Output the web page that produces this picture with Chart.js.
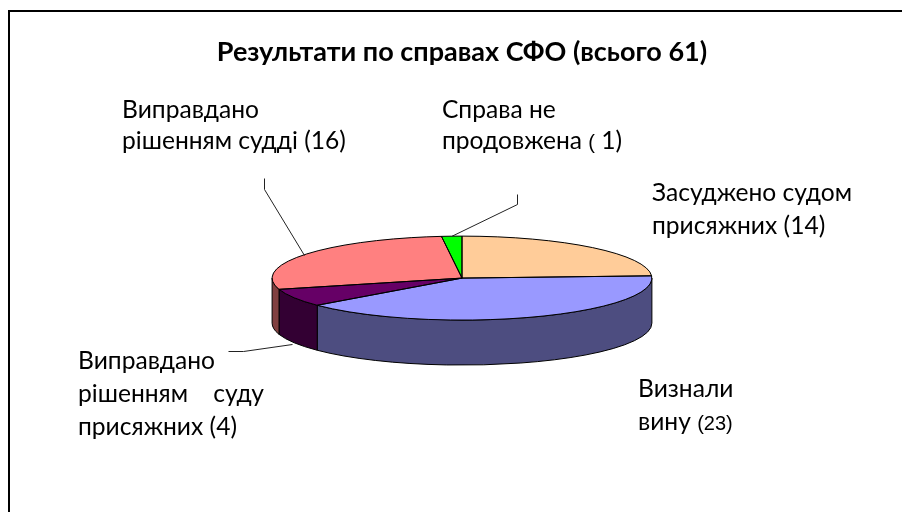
<!DOCTYPE html>
<html><head><meta charset="utf-8">
<style>
html,body{margin:0;padding:0;background:#fff;overflow:hidden}
#wrap{position:relative;width:902px;height:512px}
canvas{position:absolute;left:0;top:0}
</style>
<script src="https://cdn.jsdelivr.net/npm/chart.js@4"></script>
</head><body><div id="wrap"><canvas id="c" width="902" height="512"></canvas></div>
<script>
const titleText = 'Результати по справах СФО (всього 61)';
const categories = ['Засуджено судом присяжних','Визнали вину','Виправдано рішенням суду присяжних','Виправдано рішенням судді','Справа не продовжена'];
const values = [14,23,4,16,1];
const topColors = ['#FFCC99','#9999FF','#660066','#FF8080','#00FF00'];
const wallColors = ['#806650','#4D4D80','#330033','#804040','#008000'];

const SQUASH = 42/190, DEPTH = 45;
const FONT = 'Lato, "Noto Sans", sans-serif';
const labelBlocks = [
 {x:122,lines:[[118,'Виправдано'],[149,'рішенням судді (16)']]},
 {x:442,lines:[[118,'Справа не'],[149,'продовжена ','(',' 1)']]},
 {x:652,lines:[[201,'Засуджено судом'],[234,'присяжних (14)']]},
 {x:638,lines:[[397,'Визнали'],[430,'вину ','(23)']]},
 {x:78,lines:[[369,'Виправдано'],[402,'рішенням    суду'],[435,'присяжних (4)']]}
];
const leaders = [
 [[264,178],[264,189],[304,255]],
 [[517,194],[517,204],[451,236]],
 [[228,351],[243,351],[292,344]]
];

function squash(ctx,a){ctx.translate(a.x,a.y);ctx.scale(1,SQUASH);ctx.translate(-a.x,-a.y);}

const pie3d = {
 id:'pie3d',
 beforeDatasetsDraw(chart){
  const ctx=chart.ctx, arcs=chart.getDatasetMeta(0).data;
  arcs.forEach((a,i)=>{
   const p=a.getProps(['x','y','startAngle','endAngle','outerRadius']);
   const s=p.startAngle, e=p.endAngle;
   const segs=[];
   for(const k of [-2,0,2]){
     const lo=Math.max(s,k*Math.PI), hi=Math.min(e,(k+1)*Math.PI);
     if(hi>lo) segs.push([lo,hi]);
   }
   segs.forEach(([lo,hi])=>{
    ctx.save();
    ctx.beginPath();
    ctx.ellipse(p.x,p.y,p.outerRadius,p.outerRadius*SQUASH,0,lo,hi,false);
    ctx.ellipse(p.x,p.y+DEPTH,p.outerRadius,p.outerRadius*SQUASH,0,hi,lo,true);
    ctx.closePath();
    ctx.fillStyle=wallColors[i];ctx.fill();
    ctx.strokeStyle='#000';ctx.lineWidth=1;ctx.stroke();
    ctx.restore();
   });
  });
  ctx.save();
  squash(ctx,arcs[0].getProps(['x','y']));
 },
 afterDatasetsDraw(chart){
  const ctx=chart.ctx, arcs=chart.getDatasetMeta(0).data;
  ctx.restore();
  arcs.forEach(a=>{
   const p=a.getProps(['x','y','startAngle','endAngle','outerRadius']);
   ctx.beginPath();
   ctx.moveTo(p.x,p.y);
   ctx.ellipse(p.x,p.y,p.outerRadius,p.outerRadius*SQUASH,0,p.startAngle,p.endAngle,false);
   ctx.closePath();
   ctx.strokeStyle='#000';ctx.lineWidth=1;ctx.stroke();
  });
 },
 afterDraw(chart){
  const ctx=chart.ctx;
  ctx.save();
  ctx.fillStyle='#000';
  ctx.fillRect(8,10,2,502);
  ctx.fillRect(8,10,894,2);
  ctx.strokeStyle='#222';ctx.lineWidth=1;
  leaders.forEach(l=>{ctx.beginPath();l.forEach((pt,i)=>i?ctx.lineTo(pt[0]+.5,pt[1]+.5):ctx.moveTo(pt[0]+.5,pt[1]+.5));ctx.stroke();});
  ctx.fillStyle='#000';ctx.textAlign='left';ctx.textBaseline='alphabetic';
  const main='24.6px '+FONT, alt='20px "Liberation Sans"';
  labelBlocks.forEach(b=>b.lines.forEach(line=>{
    let x=b.x; const y=line[0];
    line.slice(1).forEach((t,i)=>{
      ctx.font=i%2?alt:main;
      ctx.fillText(t,x,y); x+=ctx.measureText(t).width;
    });
  }));
  ctx.restore();
 }
};

new Chart(document.getElementById('c'),{
 type:'pie',
 data:{labels:categories,datasets:[{data:values,backgroundColor:topColors,borderWidth:0}]},
 plugins:[pie3d],
 options:{
  responsive:false,animation:false,
  events:[],
  layout:{padding:{left:22,right:0,top:0,bottom:44}},
  plugins:{
   legend:{display:false},tooltip:{enabled:false},
   title:{display:true,text:titleText,color:'#000',align:'center',
     font:{family:FONT,size:27,weight:'bold',lineHeight:1.2},padding:{top:36.5,bottom:19.3}}
  }
 }
});
</script></body></html>
